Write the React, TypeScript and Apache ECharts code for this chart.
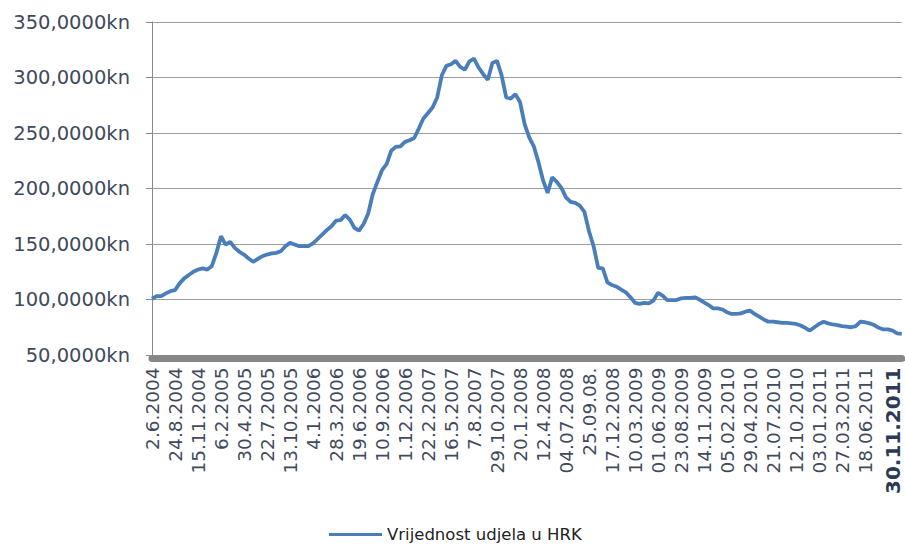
import React, { useEffect, useRef } from "react";
import * as echarts from "echarts";

const seriesName = "Vrijednost udjela u HRK";

const tickLabels = [
  "2.6.2004", "24.8.2004", "15.11.2004", "6.2.2005", "30.4.2005", "22.7.2005",
  "13.10.2005", "4.1.2006", "28.3.2006", "19.6.2006", "10.9.2006", "1.12.2006",
  "22.2.2007", "16.5.2007", "7.8.2007", "29.10.2007", "20.1.2008", "12.4.2008",
  "04.07.2008", "25.09.08.", "17.12.2008", "10.03.2009", "01.06.2009", "23.08.2009",
  "14.11.2009", "05.02.2010", "29.04.2010", "21.07.2010", "12.10.2010", "03.01.2011",
  "27.03.2011", "18.06.2011",
];
const lastLabel = "30.11.2011";
const lastLabelIndex = 161;
const pointsPerTick = 5;

const values = [
  100.5, 103, 103, 105.5, 107.5, 108.5, 114.5, 119, 122, 125,
  127, 128, 127, 130, 142, 157, 149.5, 152, 146.5, 143,
  140.5, 137, 134, 136.5, 139, 140.5, 141.5, 142, 143.5, 148,
  151, 149.5, 148, 148, 148, 150.5, 154.5, 158.5, 162.5, 166,
  171, 171.5, 176, 172, 164.5, 162, 168, 177.5, 195, 206,
  216.5, 222, 234, 237.5, 238, 242, 243.5, 245.5, 254, 263,
  268, 273, 282, 302, 310.5, 312, 315, 309.5, 307, 314.5,
  317, 309, 303, 298, 313, 315, 302, 282, 281, 285,
  278, 258, 246, 238, 224, 207.5, 196, 210, 206, 200.5,
  192, 188, 187, 184.5, 179, 161.5, 148, 128.5, 128, 115.5,
  113, 111.5, 109, 106.5, 102, 97, 96, 97, 96.5, 99,
  106, 103.5, 99.5, 99.5, 99.5, 101, 101.5, 101.5, 102, 100,
  97.5, 95, 92, 92, 91, 88.5, 87, 87, 87.5, 89,
  90, 87, 84.5, 82, 80, 80, 79.5, 79, 79, 78.5,
  78, 76.5, 74.5, 72, 75, 78, 80, 78.5, 77.5, 77,
  76, 75.5, 75, 76, 80, 79.5, 78.5, 77, 74.5, 73,
  73, 72, 69.5, 69,
];

const yTicks = [50, 100, 150, 200, 250, 300, 350];

const FONT = "DejaVu Sans";
const TEXT_COLOR = "#3f4a5b";

export default function App() {
  const ref = useRef<HTMLDivElement>(null);

  useEffect(() => {
    if (!ref.current) return;
    const chart = echarts.init(ref.current, null, { renderer: "svg" });

    const categories = values.map((_, i) => {
      if (i === lastLabelIndex) {
        return {
          value: lastLabel,
          textStyle: { fontWeight: "bold", fontSize: 20, color: "#2b3b55" },
        };
      }
      const k = i / pointsPerTick;
      if (Number.isInteger(k) && k < tickLabels.length) return tickLabels[k];
      return "";
    });

    chart.setOption({
      animation: false,
      textStyle: { fontFamily: FONT },
      grid: { left: 152, right: 3.2, top: 22, bottom: 190, containLabel: false },
      legend: {
        data: [seriesName],
        left: 324,
        top: 521,
        icon: "rect",
        itemWidth: 53,
        itemHeight: 3,
        itemGap: 10,
        textStyle: { fontFamily: FONT, fontSize: 16.5, color: "#222" },
      },
      xAxis: {
        type: "category",
        data: categories,
        boundaryGap: false,
        offset: 3.5,
        axisLine: { show: true, lineStyle: { color: "#878787", width: 7 } },
        axisTick: { show: false },
        axisLabel: {
          interval: 0,
          rotate: 90,
          margin: 9,
          fontFamily: FONT,
          fontSize: 18.5,
          color: TEXT_COLOR,
        },
        splitLine: { show: false },
      },
      yAxis: {
        type: "value",
        min: yTicks[0],
        max: yTicks[yTicks.length - 1],
        interval: 50,
        axisLine: { show: true, lineStyle: { color: "#8a8a8a", width: 1 } },
        axisTick: { show: true, length: 6, lineStyle: { color: "#8a8a8a" } },
        axisLabel: {
          margin: 22,
          fontFamily: FONT,
          fontSize: 19.5,
          color: TEXT_COLOR,
          formatter: (v: number) => `${v},0000kn`,
        },
        splitLine: { show: true, lineStyle: { color: "#9d9d9d", width: 1 } },
      },
      series: [
        {
          name: seriesName,
          type: "line",
          data: values,
          symbol: "none",
          lineStyle: { color: "#4a7ebb", width: 3.8 },
          itemStyle: { color: "#4a7ebb" },
        },
      ],
    });

    return () => chart.dispose();
  }, []);

  return (
    <div
      ref={ref}
      style={{ position: "absolute", left: 0, top: 0, width: 905, height: 545 }}
    />
  );
}
